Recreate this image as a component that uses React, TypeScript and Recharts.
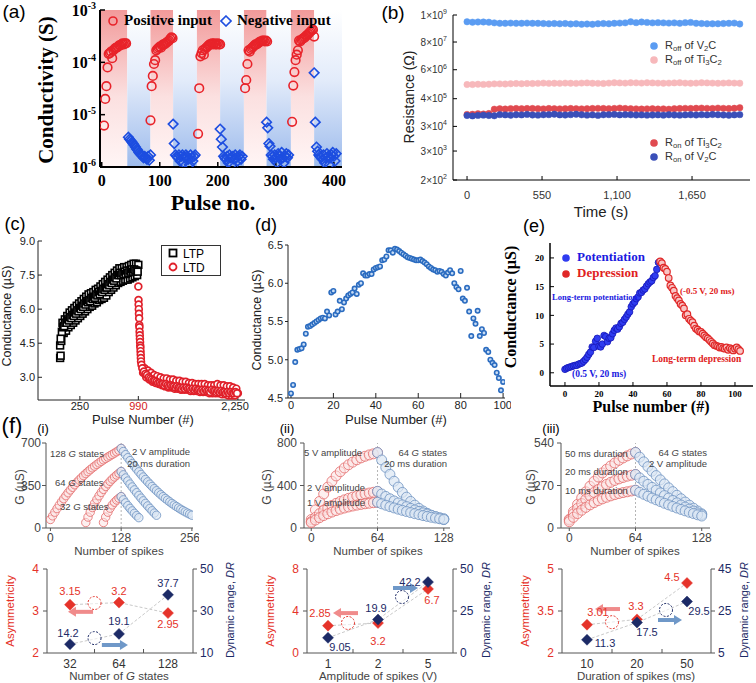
import React from 'react';
import { ScatterChart, Scatter, XAxis, YAxis, ReferenceArea, ReferenceLine, ReferenceDot } from 'recharts';

const SANS = "'Liberation Sans', Arial, Helvetica, sans-serif";
const SERIF = "'Liberation Serif', 'Times New Roman', serif";

// ---- (a) conductivity, positive / negative pulse trains ----
const aPosStart = [4, 84, 166, 247, 328];
const aNegStart = [46, 123, 204, 284, 366];
const aStripeEdges = [-3, 44, 84, 123, 164, 204, 245, 284, 326, 366, 414];
const aPos1 = [6.2e-6, 2.0e-5, 3.5e-5, 8.0e-5, 1.45e-4, 1.5e-4, 1.6e-4, 1.2e-4, 1.7e-4, 1.8e-4, 1.9e-4, 1.9e-4, 2.0e-4, 2.1e-4, 2.1e-4, 2.2e-4, 2.3e-4, 2.2e-4, 2.3e-4, 2.3e-4];
const aPos2 = [7.8e-6, 3.5e-5, 5.5e-5, 9.3e-5, 1.1e-4, 1.7e-4, 1.8e-4, 1.9e-4, 2.0e-4, 1.9e-4, 2.1e-4, 2.2e-4, 2.2e-4, 2.3e-4, 2.4e-4, 2.5e-4, 2.6e-4, 2.8e-4, 3.0e-4, 2.9e-4];
const aPos3 = [4.3e-6, 3.2e-5, 1.3e-4, 1.5e-4, 1.7e-4, 1.4e-4, 1.8e-4, 1.9e-4, 2.0e-4, 2.1e-4, 2.2e-4, 2.2e-4, 2.3e-4, 2.2e-4, 2.3e-4, 2.2e-4, 2.2e-4, 2.3e-4, 2.2e-4, 2.2e-4];
const aPos4 = [3.2e-5, 4.6e-5, 9.3e-5, 1.7e-4, 1.6e-4, 1.8e-4, 1.9e-4, 2.0e-4, 2.1e-4, 2.2e-4, 2.2e-4, 2.3e-4, 2.4e-4, 2.5e-4, 2.5e-4, 2.6e-4, 2.6e-4, 2.5e-4, 2.6e-4, 2.5e-4];
const aPos5 = [7.3e-6, 3.6e-5, 6.5e-5, 1.1e-4, 1.4e-4, 1.7e-4, 2.6e-4, 2.5e-4, 2.7e-4, 2.8e-4, 2.9e-4, 3.0e-4, 3.2e-4, 3.3e-4, 3.5e-4, 3.7e-4, 3.9e-4, 4.1e-4, 4.2e-4, 3.1e-4];
const aNeg1 = [3.7e-6, 3.4e-6, 3.2e-6, 3.0e-6, 2.8e-6, 2.6e-6, 2.4e-6, 2.2e-6, 2.1e-6, 1.9e-6, 1.8e-6, 1.7e-6, 1.6e-6, 1.5e-6, 1.6e-6, 1.5e-6, 1.4e-6, 1.6e-6, 1.35e-6, 1.7e-6];
const aNeg2 = [6.6e-6, 2.8e-6, 1.7e-6, 1.6e-6, 1.5e-6, 1.7e-6, 1.3e-6, 1.6e-6, 1.7e-6, 1.2e-6, 1.5e-6, 1.7e-6, 1.6e-6, 1.4e-6, 1.1e-6, 1.7e-6, 1.5e-6, 1.3e-6, 1.6e-6, 1.7e-6];
const aNeg3 = [5.3e-6, 3.4e-6, 2.4e-6, 1.6e-6, 1.5e-6, 1.4e-6, 1.6e-6, 1.2e-6, 1.7e-6, 1.5e-6, 1.1e-6, 1.6e-6, 1.4e-6, 1.7e-6, 1.5e-6, 1.3e-6, 1.6e-6, 1.7e-6, 1.4e-6, 1.6e-6];
const aNeg4 = [7.2e-6, 5.6e-6, 2.8e-6, 2.5e-6, 1.7e-6, 1.6e-6, 1.4e-6, 1.7e-6, 1.5e-6, 1.2e-6, 1.8e-6, 1.6e-6, 1.4e-6, 1.9e-6, 1.5e-6, 1.2e-6, 1.6e-6, 1.8e-6, 1.5e-6, 1.7e-6];
const aNeg5 = [6.3e-5, 7.2e-6, 2.4e-6, 2.0e-6, 1.7e-6, 1.6e-6, 1.5e-6, 1.4e-6, 1.7e-6, 1.2e-6, 1.5e-6, 1.8e-6, 1.6e-6, 1.1e-6, 1.5e-6, 1.7e-6, 1.9e-6, 1.6e-6, 1.3e-6, 1.8e-6];
const aTicksY = [1e-6, 1e-5, 1e-4, 1e-3];
const aTicksX = [0, 100, 200, 300, 400];

// ---- (b) resistance retention, one reading every 40 s ----
const bStep = 40;
const bOffV2C = [5.3e8, 5.1e8, 5.2e8, 5.2e8, 5.1e8, 4.8e8, 4.6e8, 4.6e8, 4.7e8, 4.6e8, 4.6e8, 4.7e8, 4.6e8, 4.6e8, 4.5e8, 4.4e8, 4.5e8, 4.4e8, 4.5e8, 4.3e8, 4.4e8, 4.2e8, 4.3e8, 4.2e8, 4.4e8, 4.5e8, 4.4e8, 4.6e8, 4.7e8, 4.8e8, 5.3e8, 4.9e8, 5.2e8, 5.0e8, 4.8e8, 4.9e8, 4.8e8, 4.7e8, 4.8e8, 4.6e8, 4.9e8, 5.0e8, 4.6e8, 4.5e8, 4.4e8, 4.4e8, 4.4e8, 4.5e8, 4.6e8, 4.7e8, 4.3e8];
const bOffTi = [1.5e6, 1.5e6, 1.55e6, 1.52e6, 1.55e6, 1.6e6, 1.6e6, 1.58e6, 1.62e6, 1.65e6, 1.62e6, 1.66e6, 1.65e6, 1.68e6, 1.72e6, 1.68e6, 1.7e6, 1.68e6, 1.72e6, 1.7e6, 1.68e6, 1.72e6, 1.75e6, 1.7e6, 1.68e6, 1.66e6, 1.72e6, 1.78e6, 1.75e6, 1.72e6, 1.78e6, 1.76e6, 1.72e6, 1.78e6, 1.75e6, 1.72e6, 1.7e6, 1.72e6, 1.75e6, 1.78e6, 1.72e6, 1.7e6, 1.72e6, 1.78e6, 1.75e6, 1.72e6, 1.7e6, 1.72e6, 1.75e6, 1.72e6, 1.7e6];
const bOnTi = [9.2e4, 9.3e4, 9.8e4, 9.5e4, 1.0e5, 1.5e5, 1.56e5, 1.52e5, 1.58e5, 1.6e5, 1.57e5, 1.6e5, 1.6e5, 1.58e5, 1.55e5, 1.6e5, 1.57e5, 1.55e5, 1.57e5, 1.6e5, 1.57e5, 1.55e5, 1.57e5, 1.6e5, 1.62e5, 1.6e5, 1.57e5, 1.6e5, 1.66e5, 1.6e5, 1.57e5, 1.55e5, 1.52e5, 1.55e5, 1.57e5, 1.52e5, 1.55e5, 1.5e5, 1.57e5, 1.6e5, 1.62e5, 1.6e5, 1.63e5, 1.66e5, 1.62e5, 1.6e5, 1.66e5, 1.62e5, 1.6e5, 1.63e5, 1.72e5];
const bOnV2C = [8.3e4, 8.0e4, 8.4e4, 8.6e4, 8.3e4, 8.1e4, 9.0e4, 8.8e4, 8.5e4, 8.9e4, 8.8e4, 9.2e4, 8.7e4, 8.6e4, 8.9e4, 9.0e4, 9.4e4, 8.8e4, 8.7e4, 9.0e4, 9.3e4, 8.9e4, 8.6e4, 8.8e4, 8.4e4, 8.9e4, 9.0e4, 9.2e4, 8.8e4, 9.0e4, 8.9e4, 8.7e4, 8.8e4, 8.6e4, 8.7e4, 8.8e4, 8.6e4, 8.9e4, 8.7e4, 8.6e4, 8.8e4, 8.9e4, 8.7e4, 9.0e4, 8.8e4, 9.1e4, 8.9e4, 8.7e4, 8.5e4, 8.8e4, 9.0e4];
const bTicksY = [2e2, 3e3, 3e4, 4e5, 6e6, 8e7, 1e9];
const bTicksX = [0, 550, 1100, 1650];

// ---- (c) LTP / LTD ----
const cLtpFirst = [3.85, 3.95];
const cLtp = [4.4, 4.6, 5.4, 4.95, 5.55, 5.05, 5.7, 5.2, 5.85, 5.3, 5.95, 5.4, 6.05, 5.5, 6.15, 5.6, 6.25, 5.7, 6.35, 5.8, 6.45, 5.9, 6.55, 6.0, 6.65, 6.1, 6.7, 6.15, 6.75, 6.25, 6.85, 6.3, 6.9, 6.4, 7.0, 6.45, 7.1, 6.5, 7.2, 6.6, 7.3, 6.75, 7.4, 6.85, 7.5, 6.95, 7.6, 7.05, 7.7, 7.15, 7.8, 7.2, 7.8, 7.25, 7.85, 7.3, 7.85, 7.3, 7.9, 7.35, 7.95, 7.4, 8.0, 7.45, 8.0, 7.5, 7.95];
const cLtpMid = [4.7, 5.0, 5.2, 5.25, 5.4, 5.4, 5.55, 5.5, 5.65, 5.6, 5.75, 5.7, 5.85, 5.8, 5.95, 5.9, 6.05, 6.0, 6.15, 6.1, 6.25, 6.2, 6.35, 6.3, 6.4, 6.35, 6.5, 6.45, 6.55, 6.5, 6.65, 6.6, 6.75, 6.65, 6.8, 6.75, 6.9, 6.85, 6.95, 6.95, 7.1, 7.05, 7.2, 7.15, 7.3, 7.25, 7.4, 7.35, 7.5, 7.5, 7.6, 7.5, 7.6, 7.55, 7.65, 7.55, 7.7, 7.6, 7.7, 7.65, 7.75, 7.65, 7.75, 7.7, 7.7, 7.65];
const cLtdDrop = [7.0, 6.4, 6.2, 6.0, 5.8, 5.6, 5.3, 5.2, 5.0, 4.85, 4.7, 4.55, 4.4, 4.3, 4.15, 4.0, 3.85, 3.7];
const cLtdTail = [3.55, 3.2, 3.4, 3.0, 3.3, 2.9, 3.2, 2.8, 3.1, 2.75, 3.05, 2.7, 3.0, 2.65, 2.95, 2.6, 2.95, 2.55, 2.9, 2.55, 2.9, 2.5, 2.85, 2.5, 2.85, 2.45, 2.8, 2.45, 2.8, 2.45, 2.75, 2.4, 2.75, 2.4, 2.7, 2.4, 2.7, 2.35, 2.7, 2.35, 2.7, 2.35, 2.65, 2.3, 2.65, 2.3, 2.65, 2.3, 2.7, 2.3, 2.65, 2.25, 2.65, 2.25, 2.6, 2.2, 2.6, 2.2, 2.55, 2.2, 2.5, 2.3];
const cLtdMid = [3.4, 3.25, 3.15, 3.1, 3.0, 2.95, 2.9, 2.85, 2.85, 2.8, 2.75, 2.75, 2.7, 2.7, 2.65, 2.7, 2.65, 2.6, 2.65, 2.6, 2.6, 2.55, 2.6, 2.55, 2.55, 2.5, 2.55, 2.5, 2.55, 2.5, 2.5, 2.45, 2.5, 2.45, 2.5, 2.45, 2.45, 2.4, 2.45, 2.4, 2.45, 2.4, 2.4, 2.35, 2.45, 2.4, 2.4, 2.35, 2.4, 2.35, 2.4, 2.35, 2.35, 2.3, 2.35, 2.3, 2.35, 2.3, 2.3, 2.35, 2.3];
const cTicksX = [250, 990, 2250];
const cTicksY = [3.0, 4.5, 6.0, 7.5, 9.0];

// ---- (d) conductance per pulse ----
const dG = [4.56, 4.67, 4.97, 5.13, 5.14, 5.15, 5.2, 5.34, 5.43, 5.44, 5.46, 5.48, 5.5, 5.52, 5.54, 5.55, 5.54, 5.63, 5.58, 5.88, 5.9, 5.59, 5.63, 5.77, 5.66, 5.75, 5.8, 5.84, 5.86, 5.88, 5.93, 5.86, 5.98, 6.0, 6.13, 6.1, 6.1, 6.12, 6.12, 6.18, 6.2, 6.21, 6.22, 6.3, 6.31, 6.35, 6.43, 6.43, 6.4, 6.45, 6.44, 6.42, 6.4, 6.38, 6.36, 6.34, 6.33, 6.32, 6.31, 6.3, 6.3, 6.31, 6.29, 6.27, 6.25, 6.22, 6.2, 6.18, 6.17, 6.15, 6.16, 6.15, 6.12, 6.1, 6.14, 6.17, 6.13, 6.0, 5.95, 5.92, 6.16, 5.8, 5.77, 5.94, 5.63, 5.31, 5.54, 5.47, 5.64, 5.31, 5.4, 5.35, 5.13, 5.1, 5.0, 4.96, 4.93, 4.83, 4.76, 4.6, 4.71];

// ---- (e) potentiation / depression ----
const ePot = [0.6, 0.8, 0.9, 1.0, 1.1, 1.2, 1.3, 1.3, 1.5, 1.6, 1.7, 2.0, 2.3, 2.7, 3.2, 3.6, 4.5, 4.4, 5.5, 6.0, 4.6, 4.5, 5.0, 6.5, 6.3, 5.4, 6.0, 6.1, 6.8, 7.4, 7.8, 7.6, 8.0, 8.6, 8.8, 9.3, 9.7, 10.2, 10.6, 11.5, 12.0, 12.3, 12.9, 13.2, 13.9, 14.0, 14.4, 14.6, 15.1, 15.5, 15.8, 16.0, 16.6, 16.9, 18.0, 19.2];
const eDep = [19.4, 19.1, 18.3, 18.1, 17.6, 16.5, 15.2, 14.8, 14.3, 13.4, 13.0, 12.6, 12.0, 11.7, 11.2, 10.0, 10.2, 9.4, 9.1, 8.8, 8.2, 7.7, 7.5, 7.2, 7.1, 6.8, 6.5, 6.2, 6.0, 5.7, 5.4, 5.1, 4.8, 4.7, 4.6, 4.4, 4.5, 4.3, 4.2, 4.4, 4.0, 4.3, 4.1, 3.9, 4.2, 4.4, 4.1, 3.8];

// ---- (f) top rows: G vs spikes, one value every 4 spikes ----
const fi128Pot = [70, 100, 130, 160, 188, 215, 241, 266, 290, 313, 335, 356, 376, 395, 413, 431, 448, 464, 480, 495, 509, 523, 536, 549, 561, 573, 584, 595, 606, 617, 628, 640, 655];
const fi128Dep = [655, 630, 604, 579, 555, 531, 508, 485, 463, 441, 420, 400, 380, 361, 342, 324, 307, 290, 274, 258, 243, 229, 215, 202, 189, 177, 165, 154, 143, 133, 123, 114, 105];
const fi64Pot = [45, 90, 130, 168, 203, 235, 265, 293, 318, 342, 364, 384, 403, 420, 436, 451, 465];
const fi64Dep = [465, 438, 412, 387, 362, 338, 314, 291, 268, 246, 224, 203, 182, 162, 142, 123, 105];
const fi32Pot = [45, 90, 130, 163, 190, 212, 230, 245, 258];
const fi32Dep = [258, 232, 207, 184, 162, 141, 121, 102, 85];
const f5vPot = [80, 170, 250, 320, 385, 440, 490, 530, 565, 595, 620, 642, 660, 675, 688, 698, 710];
const f5vDep = [710, 640, 570, 505, 440, 385, 335, 290, 250, 215, 185, 160, 138, 120, 105, 92, 80];
const f2vPot = [60, 100, 135, 165, 190, 212, 232, 250, 265, 279, 291, 302, 312, 321, 329, 336, 345];
const f2vDep = [345, 320, 297, 275, 255, 236, 218, 201, 185, 170, 156, 143, 131, 119, 108, 97, 88];
const f1vPot = [50, 75, 97, 117, 134, 150, 164, 177, 188, 198, 207, 215, 222, 228, 233, 238, 242];
const f1vDep = [242, 228, 214, 201, 189, 177, 166, 155, 145, 135, 126, 117, 109, 101, 94, 87, 80];
const f50Pot = [55, 105, 150, 192, 230, 265, 296, 324, 350, 373, 394, 413, 430, 445, 458, 470, 480];
const f50Dep = [480, 450, 420, 390, 361, 333, 306, 280, 255, 231, 208, 186, 165, 145, 126, 108, 90];
const f20Pot = [50, 90, 125, 155, 182, 205, 226, 245, 262, 277, 290, 302, 312, 321, 329, 335, 340];
const f20Dep = [340, 318, 297, 277, 258, 240, 223, 206, 190, 175, 160, 146, 133, 120, 108, 96, 85];
const f10Pot = [40, 68, 92, 113, 131, 147, 161, 174, 185, 195, 204, 212, 219, 225, 230, 235, 240];
const f10Dep = [240, 227, 214, 202, 190, 179, 168, 157, 147, 137, 127, 118, 109, 100, 92, 84, 76];

// ---- (f) bottom rows: asymmetricity and dynamic range ----
const gStates = ['32', '64', '128'];
const gStatesAsym = [3.15, 3.2, 2.95];
const gStatesDR = [14.2, 19.1, 37.7];
const gStatesAsymTxt = ['3.15', '3.2', '2.95'];
const gStatesDRTxt = ['14.2', '19.1', '37.7'];
const gAmp = ['1', '2', '5'];
const gAmpAsym = [2.6, 2.85, 6.1];
const gAmpDR = [9.05, 19.9, 42.2];
const gAmpAsymTxt = ['2.85', '3.2', '6.7'];
const gAmpDRTxt = ['9.05', '19.9', '42.2'];
const gDur = ['10', '20', '50'];
const gDurAsym = [3.01, 3.2, 4.5];
const gDurDR = [11.3, 19.5, 29.5];
const gDurAsymTxt = ['3.01', '3.3', '4.5'];
const gDurDRTxt = ['11.3', '17.5', '29.5'];

type Box = { x: number; y: number; w: number; h: number };
const run = (x0: number, step: number, vals: number[]) => vals.map((y, i) => ({ x: x0 + i * step, y }));

const RED = '#e5332a';
const NAVY = '#1c2a66';
const FRAME = '#555';

const ring = (r: number, stroke: string, fill = 'none', sw = 1.5, op = 1) => (p: any) =>
  <circle cx={p.cx} cy={p.cy} r={r} stroke={stroke} strokeWidth={sw} fill={fill} fillOpacity={op} />;
const diamond = (h: number, stroke: string, fill = 'none', sw = 1.5) => (p: any) =>
  <polygon points={`${p.cx},${p.cy - h} ${p.cx + h},${p.cy} ${p.cx},${p.cy + h} ${p.cx - h},${p.cy}`} stroke={stroke} strokeWidth={sw} fill={fill} />;
const square = (h: number, stroke: string, sw = 1.5) => (p: any) =>
  <rect x={p.cx - h} y={p.cy - h} width={2 * h} height={2 * h} stroke={stroke} strokeWidth={sw} fill="#fff" />;

// plain text; rot = vertical text reading bottom-to-top
const Tx = ({ x, y, s = 12, c = '#000', f = SANS, b = false, i = false, rot = false, a = 'middle', children }: any) => (
  <div style={{
    position: 'absolute', left: x, top: y, fontSize: s, color: c, fontFamily: f,
    fontWeight: b ? 700 : 400, fontStyle: i ? 'italic' : 'normal', whiteSpace: 'nowrap', lineHeight: 1,
    writingMode: rot ? 'vertical-rl' : 'horizontal-tb',
    transform: rot ? 'translate(-50%, -50%) rotate(180deg)'
      : `translate(${a === 'start' ? '0' : a === 'end' ? '-100%' : '-50%'}, -50%)`,
  }}>{children}</div>
);
const Sub = ({ children }: any) => <span style={{ fontSize: '0.7em', verticalAlign: '-0.3em', lineHeight: 0 }}>{children}</span>;

const PowTick = (p: any) => {
  const e = Math.round(Math.log10(p.payload.value));
  return (
    <text x={p.x} y={p.y} textAnchor="end" dominantBaseline="central" fontFamily={SERIF} fontWeight={700} fontSize={16} fill="#000">
      10<tspan dy={-5} fontSize={10}>{e}</tspan>
    </text>
  );
};
const SciTick = (p: any) => {
  const v = p.payload.value;
  const e = Math.floor(Math.log10(v) + 1e-9);
  const m = Math.round(v / Math.pow(10, e));
  return (
    <text x={p.x} y={p.y} textAnchor="end" dominantBaseline="central" fontFamily={SANS} fontSize={10} fill="#333">
      {m}×10<tspan dy={-4} fontSize={7}>{e}</tspan>
    </text>
  );
};

function PanelA() {
  const b: Box = { x: 100, y: 10, w: 242, h: 157 };
  const L = 72, R = 8, T = 14, B = 30;
  const dom: [number, number] = [-3, 414];
  const pos = [aPos1, aPos2, aPos3, aPos4, aPos5].flatMap((v, k) => run(aPosStart[k], 2, v));
  const neg = [aNeg1, aNeg2, aNeg3, aNeg4, aNeg5].flatMap((v, k) => run(aNegStart[k], 2, v));
  const stripes = aStripeEdges.slice(0, -1).map((x1, i) => ({ x1, x2: aStripeEdges[i + 1], red: i % 2 === 0 }));
  return (
    <div style={{ position: 'absolute', left: b.x - L, top: b.y - T }}>
      <ScatterChart width={b.w + L + R} height={b.h + T + B} margin={{ top: T, right: R, bottom: 0, left: 0 }}>
        <defs>
          <linearGradient id="aRed" x1="0" y1="0" x2="0" y2="1">
            <stop offset="0" stopColor="#f29a9a" />
            <stop offset="0.55" stopColor="#fbe0e0" />
            <stop offset="1" stopColor="#fff5f5" />
          </linearGradient>
          <linearGradient id="aBlue" x1="0" y1="0" x2="0" y2="1">
            <stop offset="0" stopColor="#ffffff" />
            <stop offset="0.45" stopColor="#e2ebfa" />
            <stop offset="1" stopColor="#9dbbec" />
          </linearGradient>
        </defs>
        <XAxis type="number" dataKey="x" domain={dom} ticks={aTicksX} height={B} tickSize={-5} tickMargin={13}
          axisLine={{ stroke: '#000', strokeWidth: 2 }} tickLine={{ stroke: '#000', strokeWidth: 1.5 }}
          tick={{ fill: '#000', fontSize: 16, fontFamily: SERIF, fontWeight: 700 }} allowDataOverflow />
        <YAxis type="number" dataKey="y" scale="log" domain={[1e-6, 1e-3]} ticks={aTicksY} width={L} tickSize={-5} tickMargin={9}
          axisLine={{ stroke: '#000', strokeWidth: 2 }} tickLine={{ stroke: '#000', strokeWidth: 1.5 }} tick={PowTick} allowDataOverflow />
        <XAxis xAxisId="t" orientation="top" type="number" domain={dom} height={0} tick={false} tickLine={false} axisLine={{ stroke: '#000', strokeWidth: 2 }} />
        <YAxis yAxisId="r" orientation="right" type="number" domain={[0, 1]} width={0} tick={false} tickLine={false} axisLine={{ stroke: '#000', strokeWidth: 2 }} />
        {stripes.map((s, i) => (
          <ReferenceArea key={i} x1={s.x1} x2={s.x2} fill={s.red ? 'url(#aRed)' : 'url(#aBlue)'} fillOpacity={1} stroke="none" ifOverflow="extendDomain" />
        ))}
        <Scatter data={pos} shape={ring(4.3, '#e8232a', 'none', 1.6)} isAnimationActive={false} />
        <Scatter data={neg} shape={diamond(4.8, '#1d4ee0', 'none', 1.6)} isAnimationActive={false} />
      </ScatterChart>
    </div>
  );
}

function PanelB() {
  const b: Box = { x: 453, y: 15, w: 297, h: 165 };
  const L = 50, R = 6, T = 14, B = 30;
  const dom: [number, number] = [-103, 2075];
  const series = [
    { v: bOffTi, c: '#f7b8bb' },
    { v: bOnTi, c: '#e04a50' },
    { v: bOnV2C, c: '#3a4fb8' },
    { v: bOffV2C, c: '#5b9cf2' },
  ];
  return (
    <div style={{ position: 'absolute', left: b.x - L, top: b.y - T }}>
      <ScatterChart width={b.w + L + R} height={b.h + T + B} margin={{ top: T, right: R, bottom: 0, left: 0 }}>
        <XAxis type="number" dataKey="x" domain={dom} ticks={bTicksX} height={B} tickSize={-4} tickMargin={15}
          axisLine={{ stroke: '#000' }} tickLine={{ stroke: '#000' }}
          tickFormatter={(v: number) => v.toLocaleString('en-US')}
          tick={{ fill: '#333', fontSize: 11, fontFamily: SANS }} allowDataOverflow />
        <YAxis type="number" dataKey="y" scale="log" domain={[200, 1e9]} ticks={bTicksY} width={L} tickSize={-4} tickMargin={10}
          axisLine={{ stroke: '#000' }} tickLine={{ stroke: '#000' }} tick={SciTick} allowDataOverflow />
        <XAxis xAxisId="t" orientation="top" type="number" domain={dom} ticks={[440, 1000, 1560]} height={0} tick={false} tickSize={-4} axisLine={{ stroke: '#000' }} tickLine={{ stroke: '#000' }} />
        <YAxis yAxisId="r" orientation="right" type="number" scale="log" domain={[200, 1e9]} ticks={bTicksY} width={0} tick={false} tickSize={-4} axisLine={{ stroke: '#000' }} tickLine={{ stroke: '#000' }} />
        {series.map((s, i) => (
          <Scatter key={i} data={run(0, bStep, s.v)} shape={ring(3.2, s.c, s.c, 0.5)} isAnimationActive={false} />
        ))}
      </ScatterChart>
    </div>
  );
}

const CTick = (p: any) => (
  <text x={p.x} y={p.y} dy="0.71em" textAnchor="middle" fontFamily={SANS} fontSize={11} fill={p.payload.value === 990 ? '#d42020' : '#222'}>
    {p.payload.value.toLocaleString('en-US')}
  </text>
);

function PanelC() {
  const b: Box = { x: 38, y: 241, w: 207, h: 159 };
  const L = 34, R = 6, T = 10, B = 20;
  const dom: [number, number] = [-280, 2340];
  const ltp = [...run(0, 6, cLtpFirst), ...run(0, 15, cLtp), ...run(7, 15, cLtpMid)];
  const ltd = [...run(990, 2, cLtdDrop), ...run(1030, 20, cLtdTail), ...run(1040, 20, cLtdMid)];
  return (
    <div style={{ position: 'absolute', left: b.x - L, top: b.y - T }}>
      <ScatterChart width={b.w + L + R} height={b.h + T + B} margin={{ top: T, right: R, bottom: 0, left: 0 }}>
        <XAxis type="number" dataKey="x" domain={dom} ticks={cTicksX} height={B} tickSize={-4} tickMargin={6}
          axisLine={{ stroke: '#222' }} tickLine={{ stroke: '#222' }} tick={CTick} allowDataOverflow />
        <YAxis type="number" dataKey="y" domain={[2, 9]} ticks={cTicksY} width={L} tickSize={-4} tickMargin={7}
          axisLine={{ stroke: '#222' }} tickLine={{ stroke: '#222' }}
          tickFormatter={(v: number) => v.toFixed(1)} tick={{ fill: '#222', fontSize: 11, fontFamily: SANS }} allowDataOverflow />
        <XAxis xAxisId="t" orientation="top" type="number" domain={dom} ticks={[0, 210, 420, 630, 840, 1050, 1260, 1470, 1680, 1890, 2100, 2310]} height={0} tick={false} tickSize={-4} axisLine={{ stroke: '#222' }} tickLine={{ stroke: '#222' }} />
        <YAxis yAxisId="r" orientation="right" type="number" domain={[2, 9]} ticks={[2.5, 3, 3.5, 4, 4.5, 5, 5.5, 6, 6.5, 7, 7.5, 8, 8.5]} width={0} tick={false} tickSize={-4} axisLine={{ stroke: '#222' }} tickLine={{ stroke: '#222' }} />
        <Scatter data={ltp} shape={square(3.4, '#000', 1.6)} isAnimationActive={false} />
        <Scatter data={ltd} shape={ring(3.4, '#e0202a', '#fff', 1.7)} isAnimationActive={false} />
      </ScatterChart>
    </div>
  );
}

function PanelD() {
  const b: Box = { x: 288, y: 245, w: 217, h: 153 };
  const L = 34, R = 6, T = 10, B = 20;
  const dom: [number, number] = [-1.4, 100.9];
  return (
    <div style={{ position: 'absolute', left: b.x - L, top: b.y - T }}>
      <ScatterChart width={b.w + L + R} height={b.h + T + B} margin={{ top: T, right: R, bottom: 0, left: 0 }}>
        <XAxis type="number" dataKey="x" domain={dom} ticks={[0, 20, 40, 60, 80, 100]} height={B} tickSize={-5} tickMargin={8}
          axisLine={{ stroke: '#222' }} tickLine={{ stroke: '#222' }} tick={{ fill: '#222', fontSize: 11, fontFamily: SANS }} allowDataOverflow />
        <YAxis type="number" dataKey="y" domain={[4.5, 6.5]} ticks={[4.5, 5.0, 5.5, 6.0, 6.5]} width={L} tickSize={3} tickMargin={2}
          axisLine={{ stroke: '#222' }} tickLine={{ stroke: '#222' }}
          tickFormatter={(v: number) => v.toFixed(1)} tick={{ fill: '#222', fontSize: 11, fontFamily: SANS }} allowDataOverflow />
        <XAxis xAxisId="t" orientation="top" type="number" domain={dom} height={0} tick={false} tickLine={false} axisLine={{ stroke: '#444' }} />
        <YAxis yAxisId="r" orientation="right" type="number" domain={[4.5, 6.5]} width={0} tick={false} tickLine={false} axisLine={{ stroke: '#444' }} />
        <Scatter data={run(0, 1, dG)} shape={ring(2.2, '#2b6cc0', '#c8dcf4', 1.6)} isAnimationActive={false} />
      </ScatterChart>
    </div>
  );
}

function PanelE() {
  const b: Box = { x: 550, y: 243, w: 203, h: 143 };
  const L = 30, R = 6, T = 10, B = 20;
  const dom: [number, number] = [-8.8, 110.6];
  const tickFont = { fill: '#000', fontSize: 9, fontFamily: SERIF, fontWeight: 700 };
  return (
    <div style={{ position: 'absolute', left: b.x - L, top: b.y - T }}>
      <ScatterChart width={b.w + L + R} height={b.h + T + B} margin={{ top: T, right: R, bottom: 0, left: 0 }}>
        <XAxis type="number" dataKey="x" domain={dom} ticks={[0, 20, 40, 60, 80, 100]} height={B} tickSize={-4} tickMargin={9}
          axisLine={{ stroke: '#000', strokeWidth: 1.5 }} tickLine={{ stroke: '#000' }} tick={tickFont} allowDataOverflow />
        <YAxis type="number" dataKey="y" domain={[-2.3, 22.6]} ticks={[0, 5, 10, 15, 20]} width={L} tickSize={-4} tickMargin={10}
          axisLine={{ stroke: '#000', strokeWidth: 1.5 }} tickLine={{ stroke: '#000' }} tick={tickFont} allowDataOverflow />
        <XAxis xAxisId="t" orientation="top" type="number" domain={dom} ticks={[0, 10, 20, 30, 40, 50, 60, 70, 80, 90, 100, 110]} height={0} tick={false} tickSize={-4} axisLine={{ stroke: '#000', strokeWidth: 1.5 }} tickLine={{ stroke: '#000' }} />
        <YAxis yAxisId="r" orientation="right" type="number" domain={[-2.3, 22.6]} ticks={[0, 5, 10, 15, 20]} width={0} tick={false} tickSize={-4} axisLine={{ stroke: '#000', strokeWidth: 1.5 }} tickLine={{ stroke: '#000' }} />
        <Scatter data={run(0, 1, ePot)} shape={ring(3.3, '#1616b8', '#2f3cf0', 0.8)} isAnimationActive={false} />
        <Scatter data={run(56, 1, eDep)} shape={ring(3.3, '#e02828', '#f8c4c4', 1.2)} isAnimationActive={false} />
      </ScatterChart>
    </div>
  );
}

const POT_S = '#e36b6b', POT_F = '#fbe4e4', DEP_S = '#6f93c2', DEP_F = '#dce7f3';

function FPanel({ c }: { c: any }) {
  const b: Box = c.box;
  const L = 40, R = 6, T = 10, B = 22;
  return (
    <div style={{ position: 'absolute', left: b.x - L, top: b.y - T }}>
      <ScatterChart width={b.w + L + R} height={b.h + T + B} margin={{ top: T, right: R, bottom: 0, left: 0 }}>
        <XAxis type="number" dataKey="x" domain={c.xDom} ticks={c.xTicks} height={B} tickSize={3} tickMargin={2}
          axisLine={{ stroke: FRAME }} tickLine={{ stroke: FRAME }} tick={{ fill: '#444', fontSize: 12, fontFamily: SANS }} allowDataOverflow />
        <YAxis type="number" dataKey="y" domain={c.yDom} ticks={c.yTicks} width={L} tickSize={4} tickMargin={c.yGap}
          axisLine={{ stroke: FRAME }} tickLine={{ stroke: FRAME }} tick={{ fill: '#444', fontSize: 12, fontFamily: SANS }} allowDataOverflow />
        <XAxis xAxisId="t" orientation="top" type="number" domain={c.xDom} height={0} tick={false} tickLine={false} axisLine={{ stroke: FRAME }} />
        <YAxis yAxisId="r" orientation="right" type="number" domain={c.yDom} width={0} tick={false} tickLine={false} axisLine={{ stroke: FRAME }} />
        <ReferenceLine x={c.split} stroke="#b5b5b5" strokeDasharray="2 2" />
        {c.pot.map((s: any, k: number) => (
          <Scatter key={'p' + k} data={run(s[0], 4, s[1])} shape={ring(c.r, POT_S, POT_F, 0.8, 0.55)} isAnimationActive={false} />
        ))}
        {c.dep.map((s: any, k: number) => (
          <Scatter key={'d' + k} data={run(s[0], 4, s[1])} shape={ring(c.r, DEP_S, DEP_F, 0.8, 0.7)} isAnimationActive={false} />
        ))}
      </ScatterChart>
    </div>
  );
}

const fCfgs = [
  { box: { x: 46, y: 443, w: 147, h: 85 }, xDom: [-8, 258], xTicks: [0, 128, 256], yDom: [0, 700], yTicks: [0, 350, 700], yGap: 1, split: 128, r: 4.2,
    pot: [[0, fi128Pot], [64, fi64Pot], [96, fi32Pot]], dep: [[128, fi128Dep], [128, fi64Dep], [128, fi32Dep]] },
  { box: { x: 304, y: 443, w: 146, h: 85 }, xDom: [-7, 134], xTicks: [0, 64, 128], yDom: [0, 800], yTicks: [0, 400, 800], yGap: 3, split: 64, r: 5,
    pot: [[0, f5vPot], [0, f2vPot], [0, f1vPot]], dep: [[64, f5vDep], [64, f2vDep], [64, f1vDep]] },
  { box: { x: 561, y: 443, w: 149, h: 85 }, xDom: [-8, 136], xTicks: [0, 64, 128], yDom: [0, 540], yTicks: [0, 270, 540], yGap: 3, split: 64, r: 5,
    pot: [[0, f50Pot], [0, f20Pot], [0, f10Pot]], dep: [[64, f50Dep], [64, f20Dep], [64, f10Dep]] },
];

const CatTick = (cats: string[]) => (p: any) => {
  const v = p.payload.value;
  if (Number.isInteger(v)) {
    return <text x={p.x} y={p.y} dy="0.71em" textAnchor="middle" fontFamily={SANS} fontSize={12} fill="#333">{cats[v]}</text>;
  }
  const y0 = p.y - 6;
  return <line x1={p.x} x2={p.x} y1={y0} y2={y0 - 4} stroke={FRAME} />;
};
const textShape = (color: string) => (p: any) => (
  <text x={p.cx + p.payload.dx} y={p.cy + p.payload.dy} textAnchor="middle" dominantBaseline="central" fontFamily={SANS} fontSize={11} fill={color}>{p.payload.t}</text>
);
const arrowHead = (dir: number, color: string) => (p: any) => (
  <polygon points={`${p.cx + dir * 5},${p.cy} ${p.cx - dir * 3},${p.cy - 5} ${p.cx - dir * 3},${p.cy + 5}`} fill={color} />
);

function GPanel({ c }: { c: any }) {
  const b: Box = c.box;
  const L = 30, R = 30, T = 8, B = 20;
  const a = c.asym.map((y: number, i: number) => ({ x: i, y }));
  const d = c.dr.map((y: number, i: number) => ({ x: i, y }));
  const aT = c.asym.map((y: number, i: number) => ({ x: i, y, t: c.asymTxt[i], dx: c.asymOff[i][0], dy: c.asymOff[i][1] }));
  const dT = c.dr.map((y: number, i: number) => ({ x: i, y, t: c.drTxt[i], dx: c.drOff[i][0], dy: c.drOff[i][1] }));
  const ra = c.redArrow, ba = c.blueArrow;
  return (
    <div style={{ position: 'absolute', left: b.x - L, top: b.y - T }}>
      <ScatterChart width={b.w + L + R} height={b.h + T + B} margin={{ top: T, right: 0, bottom: 0, left: 0 }}>
        <XAxis type="number" dataKey="x" domain={c.xDom} ticks={[0, 0.5, 1, 1.5, 2]} height={B} tickSize={0} tickMargin={6} tickLine={false}
          axisLine={{ stroke: FRAME }} tick={CatTick(c.cats)} allowDataOverflow />
        <XAxis xAxisId="t" orientation="top" type="number" domain={c.xDom} height={0} tick={false} tickLine={false} axisLine={{ stroke: FRAME }} />
        <YAxis yAxisId="l" type="number" dataKey="y" domain={c.lDom} ticks={c.lTicks} width={L} tickSize={4} tickMargin={4}
          axisLine={{ stroke: FRAME }} tickLine={{ stroke: FRAME }} tick={{ fill: RED, fontSize: 12, fontFamily: SANS }} allowDataOverflow />
        <YAxis yAxisId="r" orientation="right" type="number" dataKey="y" domain={c.rDom} ticks={c.rTicks} width={R} tickSize={4} tickMargin={3}
          axisLine={{ stroke: FRAME }} tickLine={{ stroke: FRAME }} tick={{ fill: NAVY, fontSize: 12, fontFamily: SANS }} allowDataOverflow />
        <Scatter yAxisId="l" data={a} shape={diamond(5.5, RED, RED, 0.5)} line={{ stroke: '#c9c9c9', strokeDasharray: '3 2', strokeWidth: 1 }} lineType="joint" isAnimationActive={false} />
        <Scatter yAxisId="r" data={d} shape={diamond(5.5, NAVY, NAVY, 0.5)} line={{ stroke: '#c9c9c9', strokeDasharray: '3 2', strokeWidth: 1 }} lineType="joint" isAnimationActive={false} />
        <ReferenceDot yAxisId="l" x={c.redRing[0]} y={c.redRing[1]} r={6.5} fill="#fff" fillOpacity={0.6} stroke={RED} strokeDasharray="2 1.5" />
        <ReferenceDot yAxisId="r" x={c.blueRing[0]} y={c.blueRing[1]} r={6.5} fill="#fff" fillOpacity={0.6} stroke={NAVY} strokeDasharray="2 1.5" />
        <ReferenceLine yAxisId="l" segment={[{ x: ra[0], y: ra[2] }, { x: ra[1], y: ra[2] }]} stroke="#f08b8b" strokeWidth={4} />
        <ReferenceDot yAxisId="l" x={ra[0]} y={ra[2]} r={1} shape={arrowHead(-1, '#f08b8b')} />
        <ReferenceLine yAxisId="r" segment={[{ x: ba[0], y: ba[2] }, { x: ba[1], y: ba[2] }]} stroke="#6f98c8" strokeWidth={4} />
        <ReferenceDot yAxisId="r" x={ba[1]} y={ba[2]} r={1} shape={arrowHead(1, '#6f98c8')} />
        <Scatter yAxisId="l" data={aT} shape={textShape(RED)} isAnimationActive={false} />
        <Scatter yAxisId="r" data={dT} shape={textShape(NAVY)} isAnimationActive={false} />
      </ScatterChart>
    </div>
  );
}

const gCfgs = [
  { box: { x: 47, y: 569, w: 146, h: 84 }, xDom: [-0.47, 2.51], cats: gStates, lDom: [2, 4], lTicks: [2, 3, 4], rDom: [10, 50], rTicks: [10, 30, 50],
    asym: gStatesAsym, dr: gStatesDR, asymTxt: gStatesAsymTxt, drTxt: gStatesDRTxt,
    asymOff: [[0, -14], [0, -12], [0, 11]], drOff: [[-2, -11], [0, -13], [0, -12]],
    redRing: [0.5, 3.19], blueRing: [0.5, 17.1], redArrow: [0.06, 0.47, 2.98], blueArrow: [0.65, 1.08, 13.8] },
  { box: { x: 307, y: 569, w: 146, h: 84 }, xDom: [-0.42, 2.5], cats: gAmp, lDom: [0, 8], lTicks: [0, 4, 8], rDom: [0, 50], rTicks: [0, 25, 50],
    asym: gAmpAsym, dr: gAmpDR, asymTxt: gAmpAsymTxt, drTxt: gAmpDRTxt,
    asymOff: [[-8, -13], [0, 18], [4, 11]], drOff: [[12, 9], [-2, -12], [-18, 0]],
    redRing: [0.4, 2.86], blueRing: [1.48, 33.3], redArrow: [0.2, 0.6, 3.8], blueArrow: [1.3, 1.7, 38.7] },
  { box: { x: 562, y: 569, w: 149, h: 84 }, xDom: [-0.5, 2.48], cats: gDur, lDom: [2, 5], lTicks: [2, 3.5, 5], rDom: [5, 45], rTicks: [5, 25, 45],
    asym: gDurAsym, dr: gDurDR, asymTxt: gDurAsymTxt, drTxt: gDurDRTxt,
    asymOff: [[11, -13], [-1, -13], [-15, -6]], drOff: [[18, 3], [10, 9], [12, 9]],
    redRing: [0.5, 3.1], blueRing: [1.58, 25.5], redArrow: [0.26, 0.66, 3.57], blueArrow: [1.42, 1.8, 20.7] },
];

const Dot = ({ c, r = 4, ring: isRing = false, d = false }: any) => (
  <svg width={12} height={12} style={{ verticalAlign: 'middle', marginRight: 5 }}>
    {d ? <polygon points="6,1 11,6 6,11 1,6" fill="none" stroke={c} strokeWidth={1.6} />
      : <circle cx={6} cy={6} r={r} fill={isRing ? 'none' : c} stroke={c} strokeWidth={1.6} />}
  </svg>
);

export default function App() {
  const G = <i>G</i>;
  return (
    <div style={{ position: 'absolute', left: 0, top: 0, width: 756, height: 683, background: '#fff', overflow: 'hidden' }}>
      <PanelA />
      <PanelB />
      <PanelC />
      <PanelD />
      <PanelE />
      {fCfgs.map((c, i) => <FPanel key={i} c={c} />)}
      {gCfgs.map((c, i) => <GPanel key={i} c={c} />)}

      {/* (a) */}
      <Tx x={14} y={11} s={19}>(a)</Tx>
      <Tx x={46} y={90} s={21} f={SERIF} b rot>Conductivity (S)</Tx>
      <Tx x={213} y={203} s={22} f={SERIF} b>Pulse no.</Tx>
      <div style={{ position: 'absolute', left: 107, top: 13, display: 'flex', alignItems: 'center', fontFamily: SERIF, fontWeight: 700, fontSize: 15, lineHeight: 1 }}>
        <Dot c="#e8232a" ring r={4} /><span style={{ marginRight: 8 }}>Positive input</span>
        <Dot c="#1d4ee0" d /><span>Negative input</span>
      </div>

      {/* (b) */}
      <Tx x={393} y={12} s={19}>(b)</Tx>
      <Tx x={409} y={97} s={14} c="#222" rot>Resistance (Ω)</Tx>
      <Tx x={601} y={211} s={15} c="#222">Time (s)</Tx>
      <div style={{ position: 'absolute', left: 648, top: 38, fontFamily: SANS, fontSize: 11, color: '#333', lineHeight: '14px' }}>
        <div><Dot c="#5b9cf2" r={3} />R<Sub>off</Sub> of V<Sub>2</Sub>C</div>
        <div><Dot c="#f7b8bb" r={3} />R<Sub>off</Sub> of Ti<Sub>3</Sub>C<Sub>2</Sub></div>
      </div>
      <div style={{ position: 'absolute', left: 648, top: 135, fontFamily: SANS, fontSize: 11, color: '#333', lineHeight: '14px' }}>
        <div><Dot c="#e04a50" r={3} />R<Sub>on</Sub> of Ti<Sub>3</Sub>C<Sub>2</Sub></div>
        <div><Dot c="#3a4fb8" r={3} />R<Sub>on</Sub> of V<Sub>2</Sub>C</div>
      </div>

      {/* (c) */}
      <Tx x={15} y={224} s={18}>(c)</Tx>
      <Tx x={7} y={316} s={12.5} c="#222" rot>Conductance (µS)</Tx>
      <Tx x={143} y={419} s={13} c="#222">Pulse Number (#)</Tx>
      <div style={{ position: 'absolute', left: 161, top: 245, width: 60, height: 31, border: '1px solid #333', background: '#fff', fontFamily: SANS, fontSize: 12, lineHeight: '14px', paddingLeft: 6, boxSizing: 'border-box', paddingTop: 1 }}>
        <div><svg width={10} height={10} style={{ marginRight: 5 }}><rect x={1.5} y={1.5} width={7} height={7} fill="#fff" stroke="#000" strokeWidth={1.8} /></svg>LTP</div>
        <div><svg width={10} height={10} style={{ marginRight: 5 }}><circle cx={5} cy={5} r={3.5} fill="#fff" stroke="#e0202a" strokeWidth={1.8} /></svg>LTD</div>
      </div>

      {/* (d) */}
      <Tx x={266} y={225} s={18}>(d)</Tx>
      <Tx x={257} y={320} s={12.5} c="#222" rot>Conductance (µS)</Tx>
      <Tx x={396} y={419} s={13} c="#222">Pulse Number (#)</Tx>

      {/* (e) */}
      <Tx x={534} y={226} s={18}>(e)</Tx>
      <Tx x={511} y={307} s={16} f={SERIF} b rot>Conductance (µS)</Tx>
      <Tx x={651} y={407} s={16} f={SERIF} b>Pulse number (#)</Tx>
      <div style={{ position: 'absolute', left: 560, top: 249, fontFamily: SERIF, fontWeight: 700, fontSize: 13, lineHeight: '16px' }}>
        <div style={{ color: '#1a1ae0' }}><Dot c="#2f3cf0" r={3} />Potentiation</div>
        <div style={{ color: '#e02020' }}><Dot c="#e02828" r={3} />Depression</div>
      </div>
      <Tx x={552} y={297} s={8.5} f={SERIF} b c="#1a1ae0" a="start">Long-term potentiation</Tx>
      <Tx x={680} y={291} s={9} f={SERIF} b c="#e02020" a="start">(-0.5 V, 20 ms)</Tx>
      <Tx x={652} y={360} s={9.5} f={SERIF} b c="#e02020" a="start">Long-term depression</Tx>
      <Tx x={572} y={375} s={9.5} f={SERIF} b c="#1a1ae0" a="start">(0.5 V, 20 ms)</Tx>

      {/* (f) top */}
      <Tx x={12} y={426} s={22}>(f)</Tx>
      <Tx x={43} y={428} s={13}>(i)</Tx>
      <Tx x={287} y={428} s={13}>(ii)</Tx>
      <Tx x={551} y={428} s={13}>(iii)</Tx>
      <Tx x={20} y={487} s={12} c="#444" rot>G (µS)</Tx>
      <Tx x={267} y={487} s={12} c="#444" rot>G (µS)</Tx>
      <Tx x={531} y={487} s={12} c="#444" rot>G (µS)</Tx>
      <Tx x={119} y={552} s={11.5} c="#444">Number of spikes</Tx>
      <Tx x={378} y={552} s={11.5} c="#444">Number of spikes</Tx>
      <Tx x={635} y={552} s={11.5} c="#444">Number of spikes</Tx>

      <Tx x={50} y={454} s={9.5} c="#444" a="start">128 {G} states</Tx>
      <Tx x={55} y={483} s={9.5} c="#444" a="start">64 {G} states</Tx>
      <Tx x={60} y={507} s={9.5} c="#444" a="start">32 {G} states</Tx>
      <Tx x={190} y={452} s={9.5} c="#444" a="end">2 V amplitude</Tx>
      <Tx x={190} y={464} s={9.5} c="#444" a="end">20 ms duration</Tx>

      <Tx x={304} y={453} s={9.5} c="#444" a="start">5 V amplitude</Tx>
      <Tx x={447} y={453} s={9.5} c="#444" a="end">64 {G} states</Tx>
      <Tx x={447} y={464} s={9.5} c="#444" a="end">20 ms duration</Tx>
      <Tx x={307} y={488} s={9.5} c="#444" a="start">2 V amplitude</Tx>
      <Tx x={307} y={503} s={9.5} c="#444" a="start">1 V amplitude</Tx>

      <Tx x={565} y={454} s={9.5} c="#444" a="start">50 ms duration</Tx>
      <Tx x={565} y={472} s={9.5} c="#444" a="start">20 ms duration</Tx>
      <Tx x={565} y={491} s={9.5} c="#444" a="start">10 ms duration</Tx>
      <Tx x={707} y={453} s={9.5} c="#444" a="end">64 {G} states</Tx>
      <Tx x={707} y={464} s={9.5} c="#444" a="end">2 V amplitude</Tx>

      {/* (f) bottom */}
      <Tx x={11} y={611} s={11.5} c={RED} rot>Asymmetricity</Tx>
      <Tx x={271} y={611} s={11.5} c={RED} rot>Asymmetricity</Tx>
      <Tx x={526} y={611} s={11.5} c={RED} rot>Asymmetricity</Tx>
      <Tx x={230} y={610} s={11} c={NAVY} rot>Dynamic range, <i>DR</i></Tx>
      <Tx x={486} y={610} s={11} c={NAVY} rot>Dynamic range, <i>DR</i></Tx>
      <Tx x={744} y={610} s={11} c={NAVY} rot>Dynamic range, <i>DR</i></Tx>
      <Tx x={119} y={677} s={11.5} c="#444">Number of {G} states</Tx>
      <Tx x={378} y={677} s={11.5} c="#444">Amplitude of spikes (V)</Tx>
      <Tx x={636} y={677} s={11.5} c="#444">Duration of spikes (ms)</Tx>
    </div>
  );
}
